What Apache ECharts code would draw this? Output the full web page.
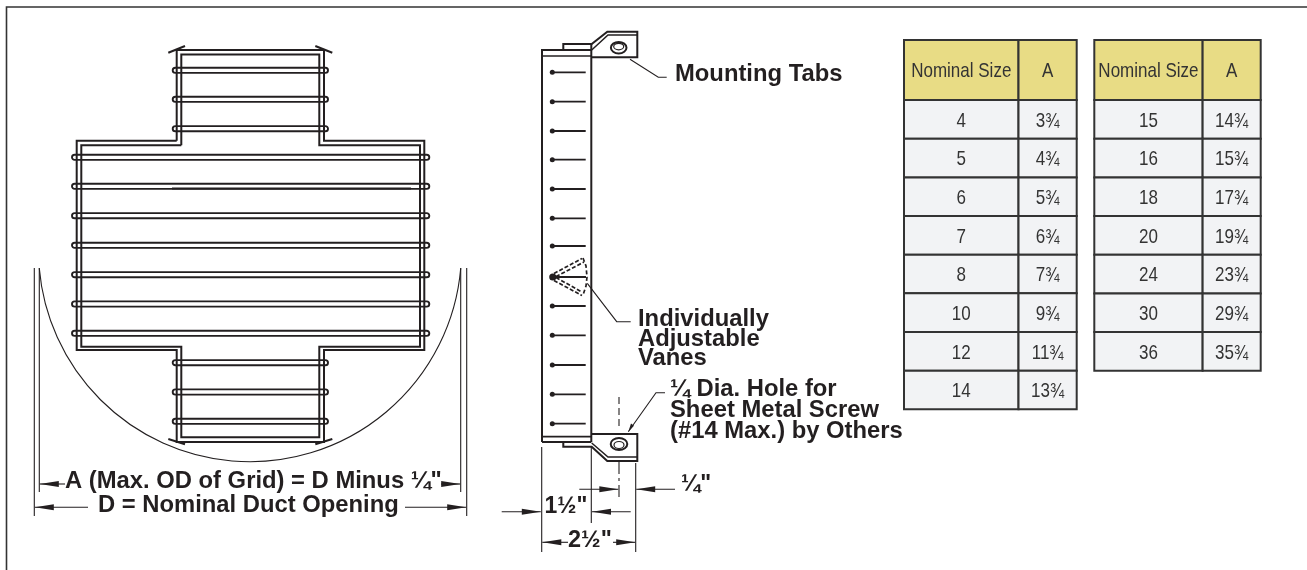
<!DOCTYPE html>
<html><head><meta charset="utf-8">
<style>html,body{margin:0;padding:0;background:#fff}#c{width:1307px;height:570px}</style>
<script src="https://cdn.jsdelivr.net/npm/echarts@6/dist/echarts.min.js"></script>
</head><body><div id="c"></div>
<script>
// ---- table data ----
const tableHeader = ['Nominal Size', 'A'];
const sizesLeft = ['4','5','6','7','8','10','12','14'];
const valuesLeft = ['3¾','4¾','5¾','6¾','7¾','9¾','11¾','13¾'];
const sizesRight = ['15','16','18','20','24','30','36'];
const valuesRight = ['14¾','15¾','17¾','19¾','23¾','29¾','35¾'];

// ---- drawing labels ----
const labelA = 'A (Max. OD of Grid) = D Minus ¼"';
const labelD = 'D = Nominal Duct Opening';
const labelTabs = 'Mounting Tabs';
const labelVanes = ['Individually','Adjustable','Vanes'];
const labelHole = ['¼ Dia. Hole for','Sheet Metal Screw','(#14 Max.) by Others'];
const labelQuarter = '¼"';
const labelOneHalf = '1½"';
const labelTwoHalf = '2½"';

// ---- drawing geometry, in page units of the drawing axes ----
const INK = '#231f20', HEAD_FILL = '#e8dc85', CELL_FILL = '#f2f3f5', GRID_INK = '#333333';
const gridOuter = [[[176.7,140.7],[76.7,140.7],[76.7,350],[176.7,350],[176.7,442],[324,442],[324,350],[424.3,350],[424.3,140.7],[324,140.7],[324,50],[176.7,50],[176.7,140.7]]];
const gridInner = [[[181.3,145.3],[81.3,145.3],[81.3,346.7],[181.3,346.7],[181.3,437.3],[319.3,437.3],[319.3,346.7],[420,346.7],[420,145.3],[319.3,145.3],[319.3,54.5],[181.3,54.5],[181.3,145.3]]];
const gridCornerTicks = [[[168.3,52.7],[185,46]],[[315.3,46],[332.3,52.7]],[[168.3,439],[185,444.3]],[[315.3,444.3],[332.3,439]]];
const shortVaneY = [70.3,99.3,128.7,362.7,392,421.3];
const longVaneY = [157.3,186.3,215.7,245.3,274.7,304,333.3];
const sideVaneY = [72.3,101.7,131,159.7,189,218.3,246,306,335.3,365,394.3,423.7];

const shapes = [];
const line = (pts, w, o) => shapes.push(Object.assign({k:'poly', pts, w: w || 1.5}, o));
const arrow = (x1,y1,x2,y2) => {
  const d = x2 > x1 ? 1 : -1;
  line([[x1,y1],[x2,y2]], 1.1);
  shapes.push({k:'fill', pts:[[x2,y2],[x2-d*19,y2-3],[x2-d*19,y2+3]]});
};
const label = (t,x,y,size,align) => shapes.push({k:'text',t,x,y,size:size||23.8,align:align||'left'});

// page frame
line([[6.5,570],[6.5,7],[1307,7]], 1.6, {color:'#333'});

// left view: duct circle and extension lines
shapes.push({k:'arc',cx:250,cy:250.2,r:211.5,a0:0.0855,a1:Math.PI-0.0855,w:1.1});
line([[34.3,268],[34.3,516]],1.1); line([[39.3,268],[39.3,492]],1.1);
line([[460.7,268],[460.7,492]],1.1); line([[466.7,268],[466.7,516]],1.1);

// left view: grid frame and vanes
gridOuter.forEach(p => line(p,2));
gridInner.forEach(p => line(p,2));
gridCornerTicks.forEach(p => line(p,2));
shortVaneY.forEach(y => shapes.push({k:'rr',x:172.7,y:y-2.6,w:155.3,h:5.2}));
longVaneY.forEach(y => shapes.push({k:'rr',x:72,y:y-2.6,w:357.3,h:5.2}));
line([[172,188.6],[411,188.6]],2);

// dimensions of the left view
arrow(65,484,39.8,484); arrow(441,484,460.2,484);
label(labelA,65,481.5);
arrow(88,507.3,34.8,507.3); arrow(405,507.3,466.2,507.3);
label(labelD,98,505.5);

// side view body
line([[542,442],[542,50],[591.3,50]],2);
line([[591.3,44],[591.3,442]],2);
line([[542,56],[591.3,56]],1.7);
line([[542,436.7],[591.3,436.7]],1.7);
line([[542,442],[591.3,442]],2);
sideVaneY.forEach(y => { line([[552.3,y],[585.7,y]],1.8); shapes.push({k:'dot',x:552.3,y,r:2.5}); });

// adjusted vane
line([[552,277],[586,277]],1.9);
shapes.push({k:'dot',x:552.8,y:277,r:3.6});
line([[554,273.5],[582,258.5]],1.7,{dash:[4,2]});
line([[556,276.5],[584,262]],1.7,{dash:[4,2]});
line([[554,280.5],[582,295.5]],1.7,{dash:[4,2]});
line([[556,277.5],[581,291.5]],1.7,{dash:[4,2]});
line([[583,258],[586,266],[587,277],[586,286],[583,295]],1.7,{dash:[4,2.5]});
line([[587.3,283.3],[616.7,321.7],[630.7,321.7]],1.1);

// top tab
line([[563.3,49.5],[563.3,44],[591.7,44],[607.3,31.7],[637.3,31.7],[637.3,57.3],[591.3,57.3]],2);
line([[591.7,50],[608,35],[637.3,35]],1.5);
shapes.push({k:'ell',x:618.7,y:47.7,rx:7.8,ry:5.8,w:2});
shapes.push({k:'ell',x:618.7,y:46.6,rx:5,ry:3.2,w:1.2});
line([[630,59.3],[658.3,77.3],[666.7,77.3]],1.1);
label(labelTabs,675,74);

// bottom tab
line([[563.3,442],[563.3,446.7],[591.7,446.7],[607.3,461],[637.3,461],[637.3,434],[591.3,434]],2);
line([[591.7,443],[608,457],[637.3,457]],1.5);
shapes.push({k:'ell',x:619,y:444,rx:8.3,ry:6,w:2});
shapes.push({k:'ell',x:619,y:445,rx:5,ry:3.5,w:1.2});

// side labels
labelVanes.forEach((t,i) => label(t,638,[319,339,358][i]));
labelHole.forEach((t,i) => label(t,670,[389,410.5,431.5][i]));
line([[628.3,431.7],[656,392.7],[665,392.7]],1.1);
shapes.push({k:'fill',pts:[[628.3,431.7],[631,423.5],[634,425.7]]});

// side dimensions
line([[619,397],[619,430]],1.1,{dash:[7,4]});
line([[619,460],[619,497]],1.1,{dash:[14,4,3,4]});
line([[541.7,447],[541.7,552]],1.1);
line([[591.3,447],[591.3,523]],1.1);
line([[635.7,463],[635.7,552]],1.1);
arrow(579.3,489.3,618.3,489.3); arrow(675,489.3,636.2,489.3);
label(labelQuarter,681,484.5,23);
arrow(501.7,511.7,540.8,511.7); arrow(630.7,511.7,592,511.7);
label(labelOneHalf,544.5,507,23);
arrow(568,542.3,542.3,542.3); arrow(613,542.3,635.2,542.3);
label(labelTwoHalf,568,541,23.5);

// ---- rendering through the axes ----
const drawingItem = (params, api) => {
  const c = (x,y) => api.coord([x,y]);
  const children = shapes.map(s => {
    if (s.k === 'poly') return {type:'polyline',shape:{points:s.pts.map(p=>c(p[0],p[1]))},style:{stroke:s.color||INK,lineWidth:s.w,fill:null,lineDash:s.dash||null,lineJoin:'miter'}};
    if (s.k === 'fill') return {type:'polygon',shape:{points:s.pts.map(p=>c(p[0],p[1]))},style:{fill:INK}};
    if (s.k === 'dot') { const p=c(s.x,s.y); return {type:'circle',shape:{cx:p[0],cy:p[1],r:s.r},style:{fill:INK}}; }
    if (s.k === 'ell') { const p=c(s.x,s.y); return {type:'ellipse',shape:{cx:p[0],cy:p[1],rx:s.rx,ry:s.ry},style:{fill:null,stroke:INK,lineWidth:s.w}}; }
    if (s.k === 'arc') { const p=c(s.cx,s.cy); return {type:'arc',shape:{cx:p[0],cy:p[1],r:s.r,startAngle:s.a0,endAngle:s.a1,clockwise:true},style:{fill:null,stroke:INK,lineWidth:s.w}}; }
    if (s.k === 'rr') { const p=c(s.x,s.y); return {type:'rect',shape:{x:p[0],y:p[1],width:s.w,height:s.h,r:2.6},style:{fill:null,stroke:INK,lineWidth:1.9}}; }
    const p=c(s.x,s.y);
    return {type:'text',style:{x:p[0],y:p[1],text:s.t,fill:INK,textAlign:s.align,textVerticalAlign:'middle',font:'bold '+s.size+'px "Liberation Sans"'}};
  });
  return {type:'group',children};
};

const columnEdges = [[0,0.663,1],[0,0.651,1]];
const HEADER_ROWS = 1.554;
const tableItem = edges => (params, api) => {
  const r = api.value(0);
  const top = r < 0 ? -HEADER_ROWS : r, bottom = r < 0 ? 0 : r + 1;
  const fill = r < 0 ? HEAD_FILL : CELL_FILL;
  const children = [];
  [0,1].forEach(col => {
    const a = api.coord([edges[col],top]), b = api.coord([edges[col+1],bottom]);
    children.push({type:'rect',shape:{x:a[0],y:a[1],width:b[0]-a[0],height:b[1]-a[1]},style:{fill,stroke:GRID_INK,lineWidth:2}});
    const txt = api.value(col+1);
    children.push({type:'text',x:(a[0]+b[0])/2,y:(a[1]+b[1])/2+1.5,scaleX:0.81,style:{x:0,y:0,text:String(txt),fill:'#333',textAlign:'center',textVerticalAlign:'middle',font:'21px "Liberation Sans"'}});
  });
  return {type:'group',children};
};
const rowsOf = (sizes, values) => [[-1,tableHeader[0],tableHeader[1]]].concat(sizes.map((s,i)=>[i,s,values[i]]));
const tableSeries = (idx, sizes, values, edges) => ({
  type:'custom', xAxisIndex:idx, yAxisIndex:idx, renderItem:tableItem(edges),
  encode:{x:-1,y:0}, data:rowsOf(sizes,values), silent:true
});
const hiddenX = (min,max,gridIndex) => ({type:'value',min,max,gridIndex,show:false});
const hiddenY = (min,max,gridIndex) => ({type:'value',min,max,gridIndex,inverse:true,show:false});

const chart = echarts.init(document.getElementById('c'), null, {renderer:'canvas'});
chart.setOption({
  animation:false,
  backgroundColor:'#ffffff',
  tooltip:{show:false},
  grid:[
    {left:0,top:0,width:1307,height:570},
    {left:904,top:40,width:172.7,height:369.3},
    {left:1094.3,top:40,width:166.4,height:330.7}
  ],
  xAxis:[hiddenX(0,1307,0),hiddenX(0,1,1),hiddenX(0,1,2)],
  yAxis:[hiddenY(0,570,0),hiddenY(-HEADER_ROWS,sizesLeft.length,1),hiddenY(-HEADER_ROWS,sizesRight.length,2)],
  series:[
    {type:'custom',xAxisIndex:0,yAxisIndex:0,renderItem:drawingItem,data:[[0,0]],silent:true},
    tableSeries(1,sizesLeft,valuesLeft,columnEdges[0]),
    tableSeries(2,sizesRight,valuesRight,columnEdges[1])
  ]
});
</script></body></html>
